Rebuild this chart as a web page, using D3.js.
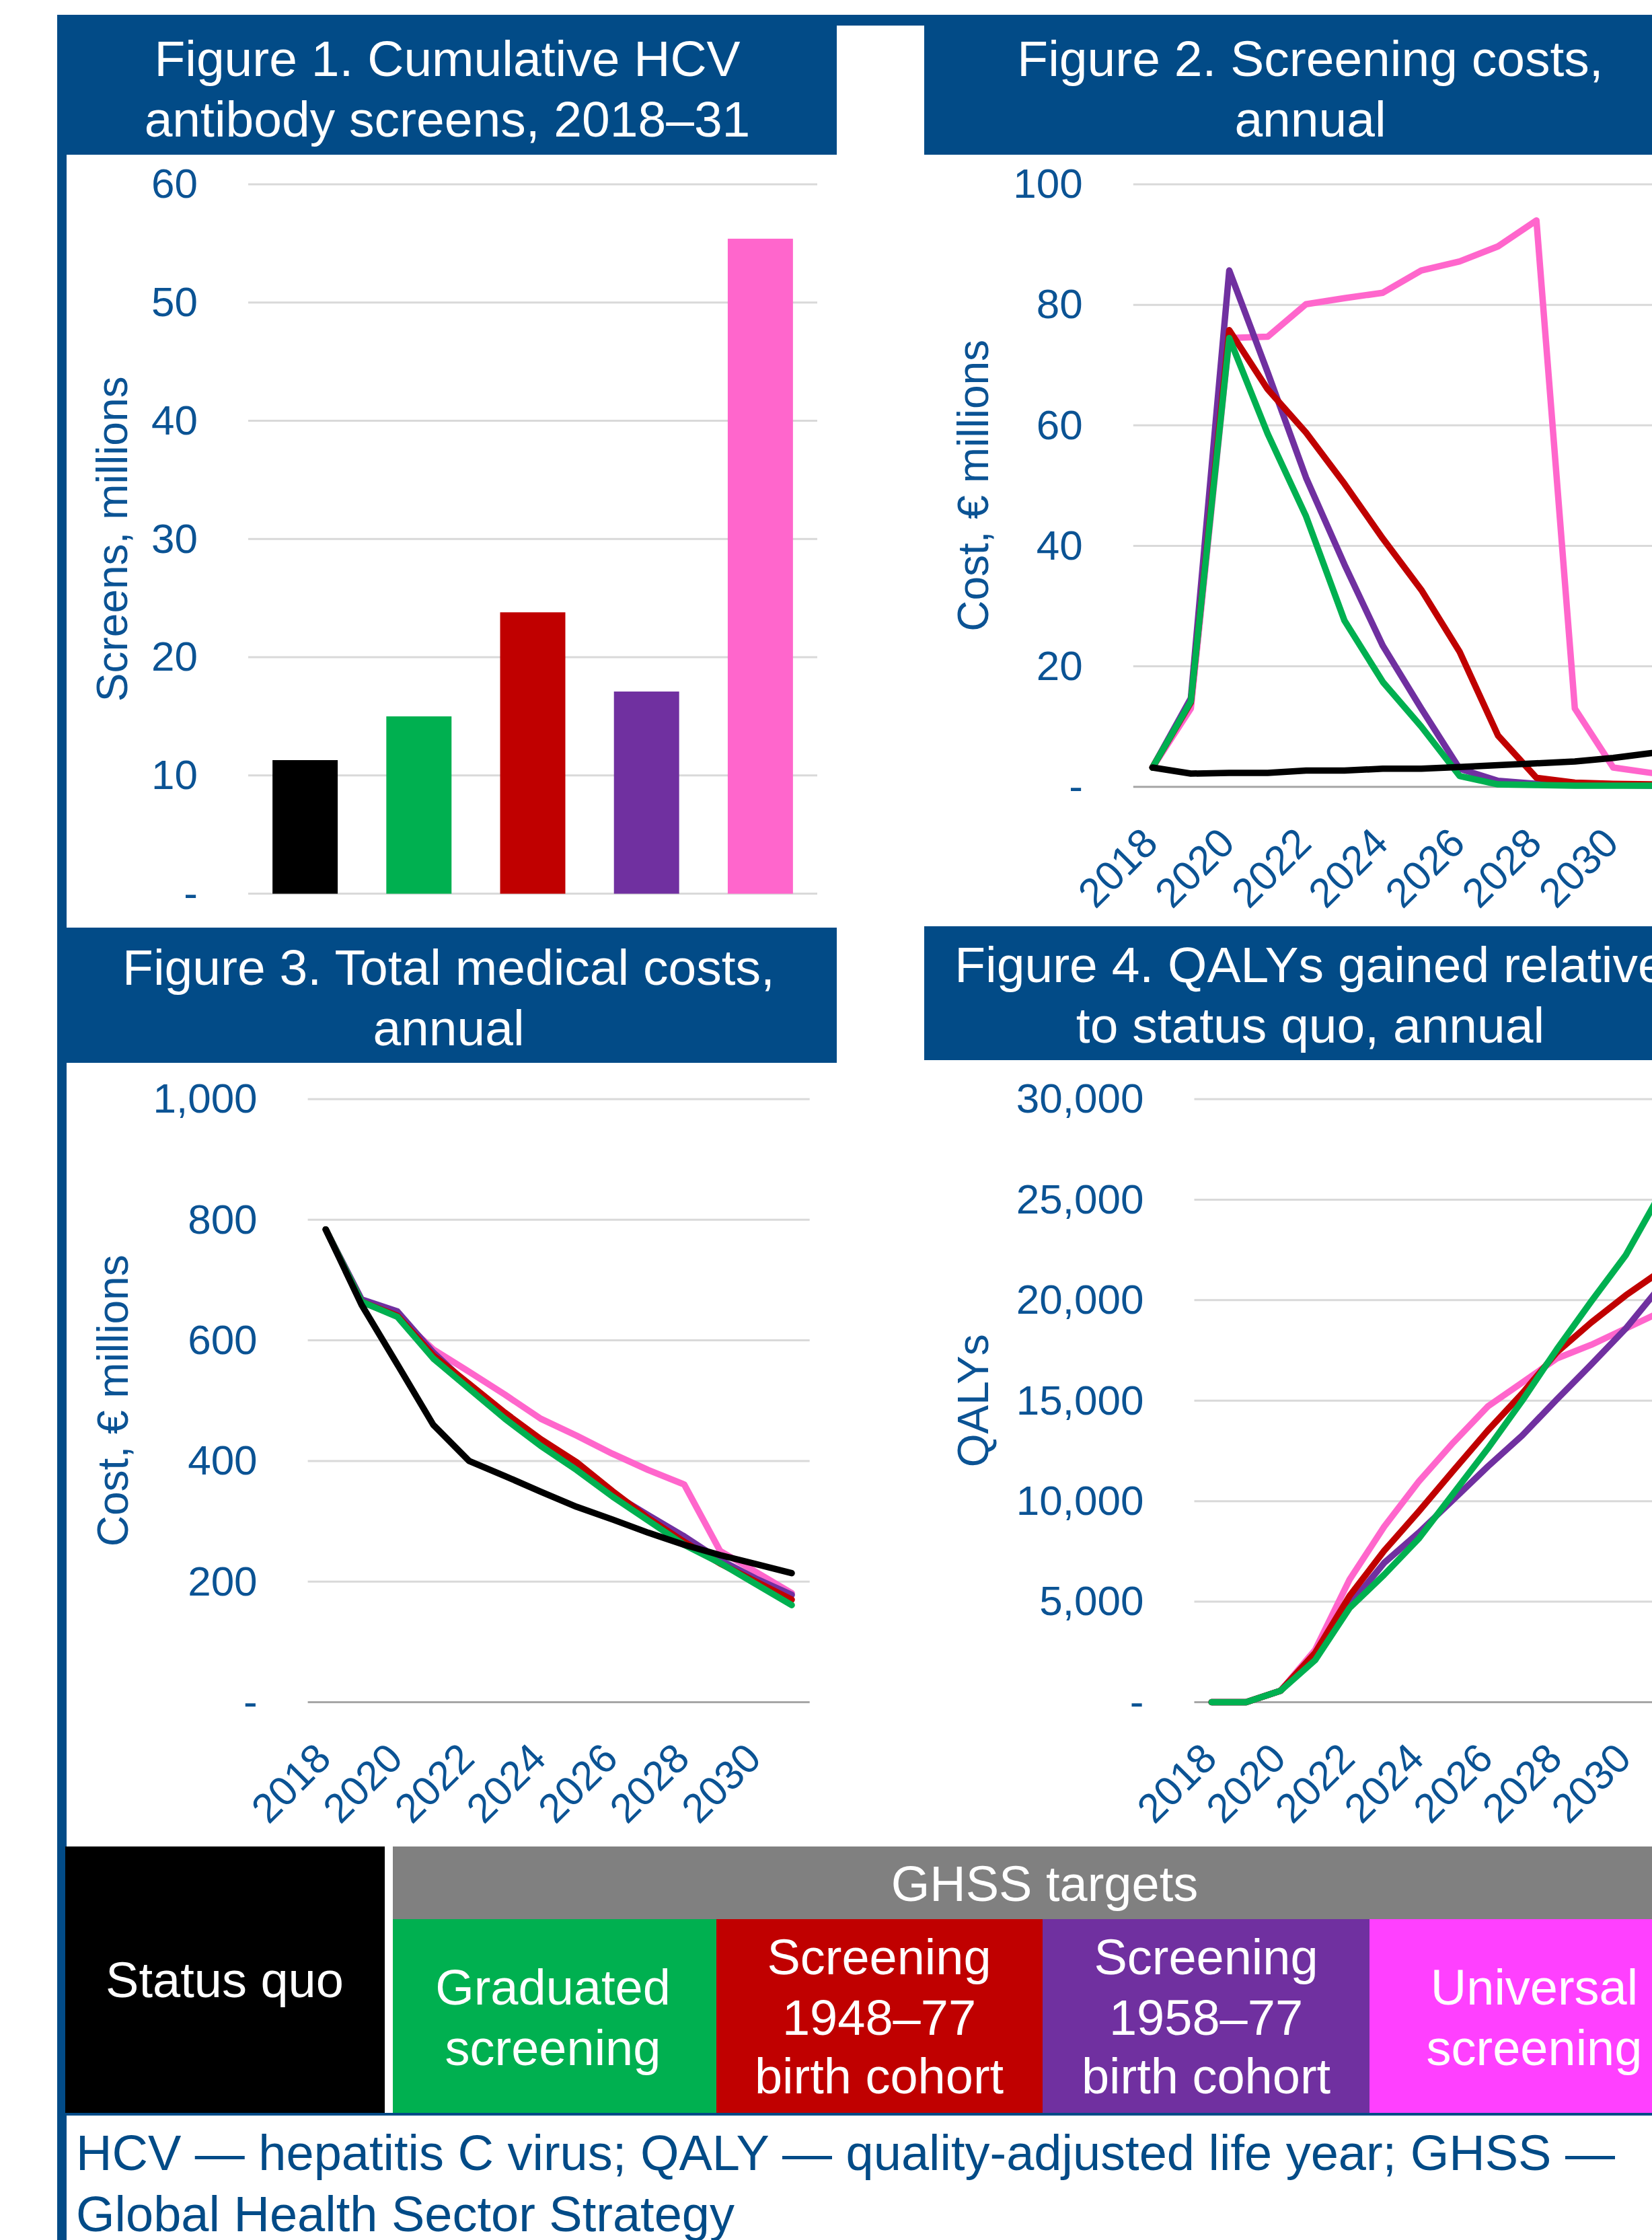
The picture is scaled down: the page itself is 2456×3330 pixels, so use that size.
<!DOCTYPE html>
<html lang="en">
<head>
<meta charset="UTF-8">
<title>HCV screening scenarios</title>
<script src="https://d3js.org/d3.v7.min.js"></script>
<style>
  html, body { margin: 0; padding: 0; background: #fff; overflow: hidden; }
  text { font-family: "Liberation Sans", Arial, sans-serif; }
</style>
</head>
<body>
<svg id="chart"></svg>
<script>
// ---- data ----
const years = [2018, 2019, 2020, 2021, 2022, 2023, 2024, 2025, 2026, 2027, 2028, 2029, 2030, 2031];
const yearLabels = [2018, 2020, 2022, 2024, 2026, 2028, 2030];
const scenarios = ["Status quo", "Graduated screening", "Screening 1948–77", "Screening 1958–77", "Universal screening"];
const colors = ["#000000", "#00B050", "#C00000", "#7030A0", "#FF66CC"];

// Figure 1: cumulative screens, millions
const screensCum = [11.3, 15.0, 23.8, 17.1, 55.4];
const screenTicks = [0, 10, 20, 30, 40, 50, 60];

// Figure 2: screening costs, EUR millions
const scrStatusQuo = [3.2, 2.2, 2.3, 2.3, 2.7, 2.7, 3.0, 3.0, 3.3, 3.6, 3.9, 4.2, 4.8, 5.6];
const scrGraduated = [3.2, 14.2, 74.5, 58.6, 44.9, 27.6, 17.4, 10.0, 1.8, 0.4, 0.3, 0.2, 0.2, 0.2];
const scr1948 = [3.2, 14.0, 75.8, 66.0, 58.8, 50.3, 41.2, 32.7, 22.4, 8.5, 1.5, 0.7, 0.5, 0.4];
const scr1958 = [3.2, 14.7, 85.7, 68.8, 51.3, 36.9, 23.4, 13.0, 3.0, 1.0, 0.5, 0.4, 0.3, 0.2];
const scrUniversal = [3.2, 13.0, 74.5, 74.7, 80.1, 81.1, 82.0, 85.7, 87.2, 89.7, 94.0, 13.0, 3.2, 2.3];
const costTicks = [0, 20, 40, 60, 80, 100];

// Figure 3: total medical costs, EUR millions
const medStatusQuo = [784, 659, 560, 460, 400, 375, 349, 324, 303, 281, 261, 244, 229, 214];
const medGraduated = [784, 664, 639, 570, 520, 470, 425, 385, 341, 301, 261, 231, 196, 161];
const med1948 = [784, 664, 641, 575, 528, 480, 436, 398, 350, 305, 266, 230, 200, 170];
const med1958 = [784, 668, 648, 580, 525, 475, 430, 390, 346, 310, 275, 236, 205, 178];
const medUniversal = [784, 664, 640, 585, 548, 510, 470, 442, 412, 385, 361, 251, 216, 181];
const medTicks = [0, 200, 400, 600, 800, 1000];

// Figure 4: QALYs gained relative to status quo
const qalyGraduated = [0, 0, 570, 2090, 4690, 6340, 8130, 10370, 12610, 15000, 17550, 19940, 22240, 25300];
const qaly1948 = [0, 0, 570, 2450, 5290, 7530, 9480, 11510, 13510, 15360, 17400, 18890, 20240, 21430];
const qaly1958 = [0, 0, 570, 2300, 4840, 6930, 8430, 10070, 11720, 13270, 15060, 16800, 18590, 20680];
const qalyUniversal = [0, 0, 570, 2600, 6100, 8730, 10970, 12910, 14710, 15900, 17100, 17780, 18590, 19400];
const qalyTicks = [0, 5000, 10000, 15000, 20000, 25000, 30000];

// ---- drawing ----
const W = 2456, H = 3330;
const navy = "#024B87";
const tickBlue = "#0B5394";
const svg = d3.select("#chart").attr("width", W).attr("height", H);

svg.append("rect").attr("width", W).attr("height", H).attr("fill", "#fff");

// frame
svg.append("rect").attr("x", 85).attr("y", 22).attr("width", 14).attr("height", H - 22).attr("fill", navy);
svg.append("rect").attr("x", 85).attr("y", 22).attr("width", W - 85).attr("height", 16).attr("fill", navy);

function titleBar(x, y, w, h, cx, base, lines) {
  svg.append("rect").attr("x", x).attr("y", y).attr("width", w).attr("height", h).attr("fill", navy);
  lines.forEach((t, i) => {
    svg.append("text")
      .attr("x", cx).attr("y", y + base + i * 90)
      .attr("text-anchor", "middle")
      .attr("fill", "#fff")
      .style("font-size", "75px")
      .text(t);
  });
}
titleBar(85, 22, 1159, 208, 665, 91, ["Figure 1. Cumulative HCV", "antibody screens, 2018–31"]);
titleBar(1374, 22, 1160, 208, 1948, 91, ["Figure 2. Screening costs,", "annual"]);
titleBar(85, 1379, 1159, 201, 667, 85, ["Figure 3. Total medical costs,", "annual"]);
titleBar(1374, 1377, 1160, 199, 1948, 83, ["Figure 4. QALYs gained relative", "to status quo, annual"]);

const fmtTick = d => d === 0 ? "-" : d3.format(",")(d);

function yAxis(cfg, y, ticks) {
  const g = svg.append("g");
  g.selectAll("line.grid").data(ticks).join("line")
    .attr("x1", cfg.x0).attr("x2", cfg.x1)
    .attr("y1", d => y(d)).attr("y2", d => y(d))
    .attr("stroke", d => d === 0 ? cfg.baseColor : "#D9D9D9")
    .attr("stroke-width", 3);
  const ax = svg.append("g")
    .attr("transform", `translate(${cfg.x0},0)`)
    .call(d3.axisLeft(y).tickValues(ticks).tickSize(0).tickPadding(75).tickFormat(fmtTick));
  ax.select(".domain").remove();
  ax.selectAll("text")
    .attr("fill", tickBlue)
    .style("font-size", "62px")
    .style("font-family", '"Liberation Sans", Arial, sans-serif');
  svg.append("text")
    .attr("transform", `translate(${cfg.titleX},${(cfg.y0 + cfg.y1) / 2}) rotate(-90)`)
    .attr("text-anchor", "middle")
    .attr("fill", tickBlue)
    .style("font-size", "64px")
    .text(cfg.title);
}

// Figure 1: bars
(function () {
  const cfg = { x0: 369, x1: 1215, y0: 1328.6, y1: 274, titleX: 189, title: "Screens, millions", baseColor: "#D9D9D9" };
  const x = d3.scaleBand().domain(scenarios).range([cfg.x0, cfg.x1]).paddingInner(0.427).paddingOuter(0.2135);
  const y = d3.scaleLinear().domain([0, 60]).range([cfg.y0, cfg.y1]);
  yAxis(cfg, y, screenTicks);
  svg.append("g").selectAll("rect").data(screensCum).join("rect")
    .attr("x", (d, i) => x(scenarios[i]))
    .attr("width", x.bandwidth())
    .attr("y", d => y(d))
    .attr("height", d => y(0) - y(d))
    .attr("fill", (d, i) => colors[i]);
})();

function lineChart(cfg, series, ticks, maxV) {
  const x = d3.scalePoint().domain(years).range([cfg.x0, cfg.x1]).padding(0.5);
  const y = d3.scaleLinear().domain([0, maxV]).range([cfg.y0, cfg.y1]);
  yAxis(cfg, y, ticks);
  const line = d3.line().x((d, i) => x(years[i])).y(d => y(d));
  svg.append("g").selectAll("path").data(series).join("path")
    .attr("d", s => line(s.values))
    .attr("fill", "none")
    .attr("stroke", s => s.color)
    .attr("stroke-width", 9.5)
    .attr("stroke-linejoin", "round")
    .attr("stroke-linecap", "round");
  svg.append("g").selectAll("text").data(yearLabels).join("text")
    .attr("transform", d => `translate(${x(d) - 4},${cfg.y0 + 72}) rotate(-45)`)
    .attr("text-anchor", "end")
    .attr("dy", "0.35em")
    .attr("fill", tickBlue)
    .style("font-size", "61px")
    .text(d => d);
}

lineChart({ x0: 1684.8, x1: 2484, y0: 1169.7, y1: 274, titleX: 1469, title: "Cost, € millions", baseColor: "#A6A6A6" },
  [
    { color: colors[4], values: scrUniversal },
    { color: colors[3], values: scr1958 },
    { color: colors[2], values: scr1948 },
    { color: colors[1], values: scrGraduated },
    { color: colors[0], values: scrStatusQuo }
  ], costTicks, 100);

lineChart({ x0: 457.6, x1: 1203.7, y0: 2530.5, y1: 1634, titleX: 190, title: "Cost, € millions", baseColor: "#A6A6A6" },
  [
    { color: colors[4], values: medUniversal },
    { color: colors[3], values: med1958 },
    { color: colors[2], values: med1948 },
    { color: colors[1], values: medGraduated },
    { color: colors[0], values: medStatusQuo }
  ], medTicks, 1000);

lineChart({ x0: 1775.5, x1: 2494, y0: 2530.5, y1: 1634, titleX: 1469, title: "QALYs", baseColor: "#A6A6A6" },
  [
    { color: colors[4], values: qalyUniversal },
    { color: colors[3], values: qaly1958 },
    { color: colors[2], values: qaly1948 },
    { color: colors[1], values: qalyGraduated }
  ], qalyTicks, 30000);

// ---- legend table ----
const legendBoxes = [
  { x: 97, w: 475, y: 2745, h: 396, fill: "#000000", cx: 334, lines: ["Status quo"], base: [2969] },
  { x: 584, w: 481, y: 2853, h: 288, fill: "#00B050", cx: 822, lines: ["Graduated", "screening"], base: [2980, 3070] },
  { x: 1065, w: 485, y: 2853, h: 288, fill: "#C00000", cx: 1307, lines: ["Screening", "1948–77", "birth cohort"], base: [2935, 3025, 3112] },
  { x: 1550, w: 486, y: 2853, h: 288, fill: "#7030A0", cx: 1793, lines: ["Screening", "1958–77", "birth cohort"], base: [2935, 3025, 3112] },
  { x: 2036, w: 490, y: 2853, h: 288, fill: "#FF40FF", cx: 2281, lines: ["Universal", "screening"], base: [2980, 3070] },
  { x: 584, w: 1942, y: 2745, h: 108, fill: "#808080", cx: 1553, lines: ["GHSS targets"], base: [2826] }
];
const lg = svg.append("g");
legendBoxes.forEach(b => {
  lg.append("rect").attr("x", b.x).attr("y", b.y).attr("width", b.w).attr("height", b.h).attr("fill", b.fill);
  b.lines.forEach((t, i) => {
    lg.append("text")
      .attr("x", b.cx).attr("y", b.base[i])
      .attr("text-anchor", "middle")
      .attr("fill", "#fff")
      .style("font-size", "74px")
      .text(t);
  });
});
svg.append("rect").attr("x", 85).attr("y", 3141).attr("width", W - 85).attr("height", 4).attr("fill", navy);

// footnote
["HCV — hepatitis C virus; QALY — quality-adjusted life year; GHSS —", "Global Health Sector Strategy"]
  .forEach((t, i) => {
    svg.append("text")
      .attr("x", 113).attr("y", 3226 + i * 91)
      .attr("fill", navy)
      .style("font-size", "74px")
      .text(t);
  });
</script>
</body>
</html>
